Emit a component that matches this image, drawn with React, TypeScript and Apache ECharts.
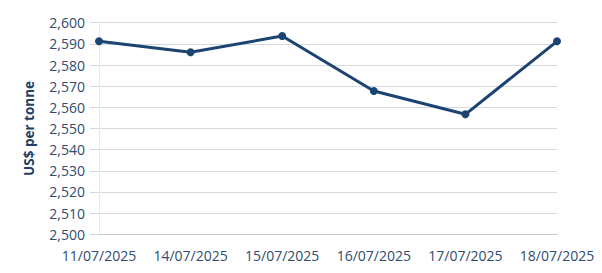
import React, { useEffect, useRef } from "react";
import * as echarts from "echarts";

const categories = ["11/07/2025", "14/07/2025", "15/07/2025", "16/07/2025", "17/07/2025", "18/07/2025"];
const prices = [2591.2, 2586, 2593.7, 2567.7, 2556.7, 2591.2];
const yMin = 2500;
const yMax = 2600;
const yStep = 10;
const yName = "US$ per tonne";

export default function App() {
  const ref = useRef<HTMLDivElement>(null);
  useEffect(() => {
    if (!ref.current) return;
    const chart = echarts.init(ref.current, null, { renderer: "svg" });
    const grid = "#d3dae4";
    const text = "#2f4c6e";
    chart.setOption({
      animation: false,
      grid: { left: 99, right: 45, top: 22.7, bottom: 38.7 },
      xAxis: {
        type: "category",
        data: categories,
        boundaryGap: false,
        axisLine: { show: true, lineStyle: { color: "#c5ccd8", width: 1 } },
        axisTick: { show: false },
        splitLine: { show: false },
        axisLabel: { color: text, fontFamily: "Open Sans", fontSize: 14, margin: 14, interval: 0 },
      },
      yAxis: {
        type: "value",
        min: yMin,
        max: yMax,
        interval: yStep,
        name: yName,
        nameLocation: "middle",
        nameGap: 63,
        nameTextStyle: { color: "#1f3f66", fontFamily: "Open Sans", fontSize: 13.5, fontWeight: "bold" },
        axisLine: { show: true, lineStyle: { color: "#e6eaf0", width: 1 } },
        axisTick: { show: true, length: 9, lineStyle: { color: grid } },
        splitLine: { show: true, lineStyle: { color: grid, width: 1 } },
        axisLabel: {
          color: text,
          fontFamily: "Open Sans",
          fontSize: 14,
          margin: 14,
          formatter: (v: number) => v.toLocaleString("en-US"),
        },
      },
      series: [
        {
          type: "line",
          data: prices,
          symbol: "circle",
          symbolSize: 8,
          lineStyle: { color: "#1b4470", width: 3 },
          itemStyle: { color: "#1b4470" },
        },
      ],
    });
    return () => chart.dispose();
  }, []);
  return <div ref={ref} style={{ width: 602, height: 273, position: "absolute", left: 0, top: 0 }} />;
}
